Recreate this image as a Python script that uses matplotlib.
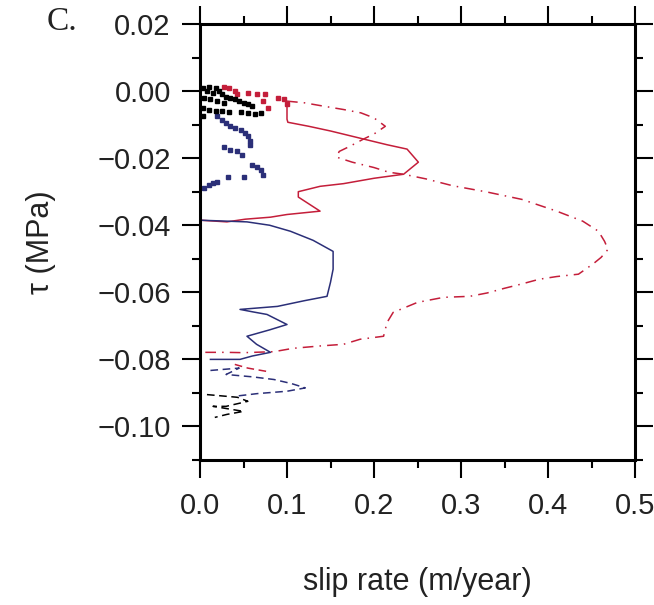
import matplotlib
matplotlib.use("Agg")
import matplotlib.pyplot as plt
from matplotlib.ticker import MultipleLocator, FuncFormatter

plt.rcParams['font.family'] = ['Liberation Sans', 'DejaVu Sans']

# red: upper dashed branch + outer loop (dash-dot)
red_outer_x = [0.100, 0.120, 0.142, 0.165, 0.185, 0.200, 0.213, 0.200, 0.188, 0.172, 0.160,
               0.157, 0.175, 0.200, 0.217, 0.234, 0.260, 0.290, 0.330, 0.370, 0.410, 0.440,
               0.458, 0.465, 0.469, 0.461, 0.452, 0.435, 0.410, 0.390, 0.370, 0.350, 0.330,
               0.310, 0.280, 0.250, 0.222, 0.215, 0.211, 0.184, 0.165, 0.138, 0.107, 0.085,
               0.050, 0.030, 0.005]
red_outer_y = [-0.0030, -0.0035, -0.0045, -0.0055, -0.0065, -0.0080, -0.0105, -0.0128, -0.0143,
               -0.0165, -0.0180, -0.0197, -0.0212, -0.0228, -0.0242, -0.0248, -0.0262, -0.0282,
               -0.0301, -0.0323, -0.0358, -0.0388, -0.0418, -0.0448, -0.0472, -0.0496, -0.0515,
               -0.0546, -0.0553, -0.0561, -0.0575, -0.0588, -0.0602, -0.0612, -0.0615, -0.0630,
               -0.0660, -0.0690, -0.0731, -0.0740, -0.0755, -0.0760, -0.0767, -0.0777, -0.0780,
               -0.0779, -0.0779]

# red: inner loop (solid)
red_inner_x = [0.100, 0.100, 0.101, 0.125, 0.150, 0.188, 0.215, 0.238, 0.251, 0.234, 0.200,
               0.165, 0.138, 0.113, 0.113, 0.138, 0.100, 0.081, 0.052, 0.031, 0.000]
red_inner_y = [-0.0035, -0.0084, -0.0093, -0.0105, -0.0119, -0.0143, -0.0160, -0.0173, -0.0212,
               -0.0248, -0.0260, -0.0276, -0.0284, -0.0300, -0.0316, -0.0358, -0.0368, -0.0376,
               -0.0382, -0.0390, -0.0385]

red_pts_x = [0.028, 0.033, 0.040, 0.043, 0.055, 0.065, 0.075, 0.072, 0.078, 0.090, 0.097, 0.100]
red_pts_y = [0.0012, 0.0008, 0.0000, -0.0008, -0.0005, -0.0008, -0.0010, -0.0030, -0.0050,
             -0.0020, -0.0025, -0.0040]

red_tail_x = [0.040, 0.055, 0.077]
red_tail_y = [-0.0815, -0.0826, -0.0836]

# blue solid path
blue_x = [0.000, 0.054, 0.080, 0.104, 0.130, 0.153, 0.153, 0.150, 0.146, 0.120, 0.089, 0.046,
          0.060, 0.077, 0.100, 0.080, 0.054, 0.065, 0.081, 0.060, 0.046, 0.012]
blue_y = [-0.0385, -0.0390, -0.0400, -0.0418, -0.0445, -0.0478, -0.0531, -0.0570, -0.0612,
          -0.0625, -0.0642, -0.0651, -0.0658, -0.0666, -0.0696, -0.0712, -0.0731, -0.0755,
          -0.0779, -0.0790, -0.0800, -0.0800]

# blue dashed tail
blue_tail_x = [0.012, 0.045, 0.030, 0.060, 0.085, 0.105, 0.121, 0.100, 0.066, 0.040]
blue_tail_y = [-0.0833, -0.0826, -0.0845, -0.0852, -0.0860, -0.0872, -0.0885, -0.0895,
               -0.0902, -0.0910]

blue_pts_x = [0.020, 0.025, 0.030, 0.035, 0.040, 0.047, 0.052, 0.055, 0.057, 0.058, 0.028,
              0.035, 0.042, 0.048, 0.060, 0.065, 0.070, 0.072, 0.032, 0.050, 0.005, 0.010,
              0.015, 0.020]
blue_pts_y = [-0.0075, -0.0085, -0.0095, -0.0103, -0.0110, -0.0115, -0.0125, -0.0135, -0.0148,
              -0.0160, -0.0168, -0.0175, -0.0180, -0.0190, -0.0220, -0.0225, -0.0235, -0.0250,
              -0.0255, -0.0255, -0.0290, -0.0280, -0.0275, -0.0272]

# black
black_pts_x = [0.003, 0.010, 0.018, 0.022, 0.008, 0.015, 0.025, 0.030, 0.035, 0.040, 0.045,
               0.050, 0.055, 0.060, 0.005, 0.012, 0.020, 0.028, 0.003, 0.010, 0.018, 0.025,
               0.033, 0.047, 0.055, 0.063, 0.070, 0.004]
black_pts_y = [0.0010, 0.0012, 0.0008, 0.0000, 0.0000, -0.0005, -0.0010, -0.0018, -0.0020,
               -0.0025, -0.0030, -0.0035, -0.0040, -0.0045, -0.0020, -0.0025, -0.0030, -0.0035,
               -0.0050, -0.0055, -0.0058, -0.0060, -0.0062, -0.0062, -0.0065, -0.0068, -0.0065,
               -0.0075]

black_tail_x = [0.008, 0.043, 0.055, 0.030, 0.015, 0.050, 0.031, 0.017]
black_tail_y = [-0.0905, -0.0913, -0.0925, -0.0940, -0.0940, -0.0955, -0.0964, -0.0973]

RED = '#c41e3a'
NAVY = '#2b2f78'
INK = '#222222'


def fmt(digits):
    def f(v, pos):
        s = '%.*f' % (digits, v)
        if float(s) == 0:
            s = s.lstrip('-')
        return s.replace('-', '\u2212')
    return FuncFormatter(f)


fig = plt.figure(figsize=(6.54, 6.05), dpi=100)
ax = fig.add_axes([200 / 654, 1 - 460 / 605, 435 / 654, 436 / 605])

ax.plot(red_outer_x, red_outer_y, color=RED, lw=1.1, ls=(0, (7, 4, 1, 4)))
ax.plot(red_inner_x, red_inner_y, color=RED, lw=1.1)
ax.plot(red_tail_x, red_tail_y, color=RED, lw=1.1, ls=(0, (5, 3)))
ax.plot(red_pts_x, red_pts_y, 's', color=RED, ms=3)
ax.plot(blue_x, blue_y, color=NAVY, lw=1.1)
ax.plot(blue_tail_x, blue_tail_y, color=NAVY, lw=1.1, ls=(0, (5, 3)))
ax.plot(blue_pts_x, blue_pts_y, 's', color=NAVY, ms=2.5)
ax.plot(black_pts_x, black_pts_y, 's', color='black', ms=3.5)
ax.plot(black_tail_x, black_tail_y, color='black', lw=1.1, ls=(0, (5, 3)))

ax.set_xlim(0, 0.5)
ax.set_ylim(-0.11, 0.02)

ax.xaxis.set_major_locator(MultipleLocator(0.1))
ax.xaxis.set_minor_locator(MultipleLocator(0.05))
ax.yaxis.set_major_locator(MultipleLocator(0.02))
ax.yaxis.set_minor_locator(MultipleLocator(0.01))
ax.xaxis.set_major_formatter(fmt(1))
ax.yaxis.set_major_formatter(fmt(2))

for s in ax.spines.values():
    s.set_linewidth(2.2)
ax.tick_params(which='both', direction='out', top=True, right=True, width=1.5, colors='black',
               labelcolor=INK, labelsize=21)
ax.tick_params(which='major', length=13)
ax.tick_params(which='minor', length=6)
ax.tick_params(axis='x', pad=10)
ax.tick_params(axis='y', pad=8)

ax.set_xlabel('slip rate (m/year)', fontsize=22, color=INK, labelpad=34)
ax.set_ylabel('τ (MPa)', fontsize=22, color=INK, labelpad=30)
fig.text(62 / 654, 1 - 22 / 605, 'C.', fontsize=24, color=INK, family='Liberation Serif',
         ha='center', va='center')

fig.savefig('out.png', dpi=100)
